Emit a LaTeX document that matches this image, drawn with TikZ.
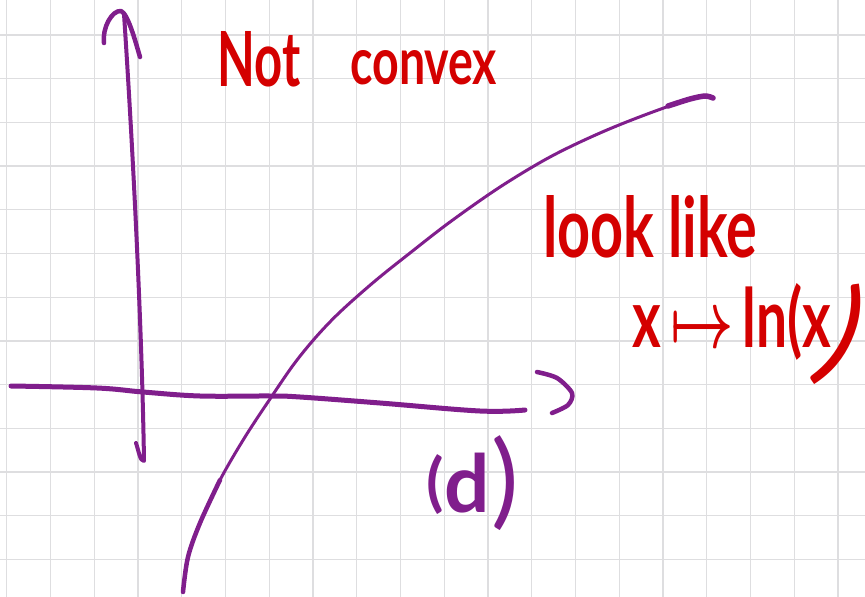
\documentclass[tikz,border=0pt]{standalone}
\usepackage{fontspec}
\setmainfont{Lato}
\usepackage{graphicx}
\definecolor{pen}{RGB}{212,0,0}
\definecolor{plum}{RGB}{128,30,140}
\definecolor{gridgray}{RGB}{222,222,224}
\begin{document}
\begin{tikzpicture}[x=1pt,y=-1pt,
  gridline/.style={draw=gridgray, line width=1.3pt},
  axis/.style={draw=plum, line width=5pt, line cap=round, line join=round},
  curve/.style={draw=plum, line width=3pt, line cap=round, line join=round},
  redtext/.style={text=pen, font=\bfseries\boldmath, inner sep=0pt},
  plumtext/.style={text=plum, font=\bfseries, inner sep=0pt}]
\useasboundingbox (0,0) rectangle (865,597);
\fill[white] (0,0) rectangle (865,597);
% grid
\foreach \k in {0,...,19} \draw[gridline] ({6.7+43.75*\k},0) -- ({6.7+43.75*\k},597);
\foreach \k in {0,...,12} \draw[gridline] (0,{35+43.7*\k}) -- (865,{35+43.7*\k});
% horizontal axis
\draw[axis] plot[smooth, tension=0.6] coordinates {(11,386) (97,388) (143,392) (200,396) (270,396) (300,397) (380,403) (480,411) (525,410)};
\draw[axis, line width=4.5pt] plot[smooth] coordinates {(537,372) (557,378) (572,393) (568,405) (552,413)};
% vertical axis
\draw[axis, line width=4pt] (136,443) .. controls (139,452) and (140,461) .. (144,461) .. controls (142,330) and (133,150) .. (124,14);
\draw[axis, line width=4.5pt] (104,43) .. controls (102,28) and (112,10) .. (121,11) .. controls (128,14) and (135,40) .. (140,57);
% curve
\draw[curve] plot[smooth, tension=0.55] coordinates {(183,592) (188,557) (200,523) (220,480) (245,437) (272,396) (294,364) (316,337) (340,312) (375,281) (410,253) (450,222) (500,187) (550,157) (600,133) (650,113) (700,96) (713,98)};
\draw[curve, line width=4.5pt] plot[smooth, tension=0.55] coordinates {(183,592) (188,557) (200,523) (220,480)};
\draw[curve, line width=5.5pt] plot[smooth] coordinates {(668,106) (690,99) (705,96) (713,98)};
% texts
\node[redtext, anchor=south west] (not) at (217,87) {\resizebox{83pt}{55pt}{Not}};
\node[redtext, anchor=south west] (convex) at (350,85) {\resizebox{147pt}{34pt}{convex}};
\node[redtext, anchor=south west] (look) at (543,258) {\resizebox{214pt}{62pt}{look like}};
\node[redtext, anchor=base west] (map) at (632,347) {\resizebox{199pt}{64pt}{x\,$\mapsto$\,ln(x}};
\node[redtext, font=\mdseries, rotate=-24] (paren) at (842,337) {\resizebox*{!}{110pt}{)}};
\node[plumtext, anchor=base west] (d) at (426,512) {\fontsize{80}{80}\selectfont\raisebox{8pt}{\resizebox*{!}{60pt}{(}}\kern1pt d\kern1pt\raisebox{-3pt}{\resizebox*{!}{95pt}{\mdseries)}}};
\end{tikzpicture}
\end{document}
